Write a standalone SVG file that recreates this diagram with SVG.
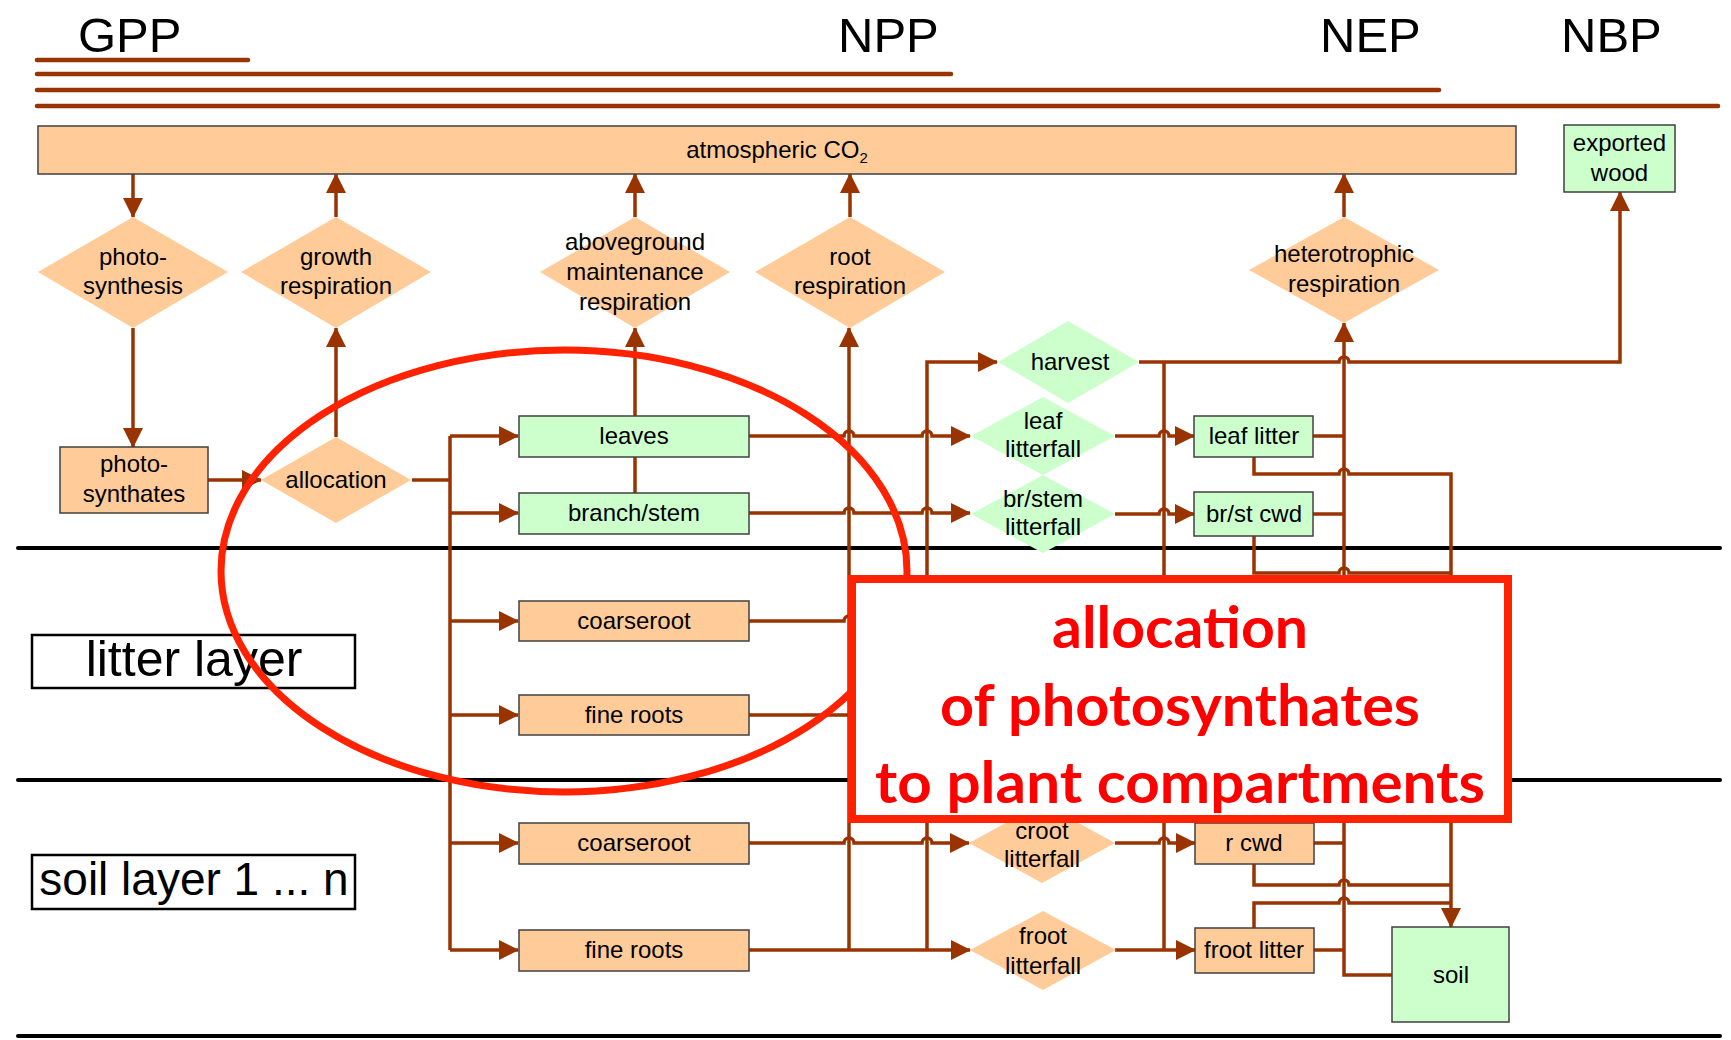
<svg xmlns="http://www.w3.org/2000/svg" width="1731" height="1040" viewBox="0 0 1731 1040">
<style>
.t{font-family:"Liberation Sans",Arial,sans-serif;font-size:24px;fill:#000;text-anchor:middle}
.big{font-family:"Liberation Sans",Arial,sans-serif;font-size:49px;fill:#000}
.lay{font-family:"Liberation Sans",Arial,sans-serif;fill:#000;text-anchor:middle}
.or{fill:#FFCC99;stroke:#404040;stroke-width:1.5}
.gr{fill:#CCFFCC;stroke:#404040;stroke-width:1.5}
.dor{fill:#FFCC99}
.dgr{fill:#CCFFCC}
.c{fill:none;stroke:#993300;stroke-width:3.5}
.ca{fill:none;stroke:#993300;stroke-width:3.5;marker-end:url(#ah)}
.bar{stroke:#993300;stroke-width:4.5;stroke-linecap:round}
.sep{stroke:#000;stroke-width:4;stroke-linecap:round}
.callt{font-family:Lato,"Open Sans",sans-serif;font-weight:bold;font-size:58px;fill:#FF0000;text-anchor:middle}
</style>
<defs>
<marker id="ah" viewBox="0 0 20 20" refX="19" refY="10" markerWidth="20" markerHeight="20" orient="auto" markerUnits="userSpaceOnUse">
<path d="M0,0 L20,10 L0,20 z" fill="#993300"/>
</marker>
</defs>
<rect width="1731" height="1040" fill="#FFFFFF"/>

<g id="header">
<text class="big" x="78" y="52">GPP</text>
<text class="big" x="838" y="52">NPP</text>
<text class="big" x="1320" y="52">NEP</text>
<text class="big" x="1561" y="52">NBP</text>
<line class="bar" x1="37" y1="60" x2="248" y2="60"/>
<line class="bar" x1="37" y1="74" x2="951" y2="74"/>
<line class="bar" x1="37" y1="90" x2="1439" y2="90"/>
<line class="bar" x1="37" y1="106" x2="1718" y2="106"/>
</g>

<g id="layers">
<line class="sep" x1="18" y1="548" x2="1720" y2="548"/>
<line class="sep" x1="18" y1="780" x2="1720" y2="780"/>
<line class="sep" x1="18" y1="1036" x2="1720" y2="1036"/>
<g id="litter-layer-label">
<rect x="32" y="635" width="323" height="53" fill="#FFFFFF" stroke="#000" stroke-width="2.5"/>
<text class="lay" x="194" y="676" font-size="50">litter layer</text>
</g>
<g id="soil-layer-label">
<rect x="32" y="855" width="323" height="54" fill="#FFFFFF" stroke="#000" stroke-width="2.5"/>
<text class="lay" x="194" y="895" font-size="46">soil layer 1 ... n</text>
</g>
</g>

<g id="connectors">
<path class="ca" d="M133,174 V217"/>
<path class="ca" d="M336,217 V174"/>
<path class="ca" d="M635,217 V174"/>
<path class="ca" d="M850,217 V174"/>
<path class="ca" d="M1344,217 V174"/>
<path class="ca" d="M133,328 V447"/>
<path class="ca" d="M208,480 H261"/>
<path class="ca" d="M336,437 V328"/>
<path class="c" d="M412,480 H450"/>
<path class="c" d="M450,436 V950"/>
<path class="ca" d="M450,436 H518"/>
<path class="ca" d="M450,513 H518"/>
<path class="ca" d="M450,621 H518"/>
<path class="ca" d="M450,715 H518"/>
<path class="ca" d="M450,843 H518"/>
<path class="ca" d="M450,950 H518"/>
<path class="ca" d="M635,493 V328"/>
<path class="ca" d="M749,436 H844 a5,5 0 0 1 10,0 H922 a5,5 0 0 1 10,0 H970"/>
<path class="ca" d="M749,513 H844 a5,5 0 0 1 10,0 H922 a5,5 0 0 1 10,0 H970"/>
<path class="c" d="M749,621 H844 a5,5 0 0 1 10,0 H922 a5,5 0 0 1 10,0 H960"/>
<path class="c" d="M749,715 H960"/>
<path class="ca" d="M749,843 H844 a5,5 0 0 1 10,0 H922 a5,5 0 0 1 10,0 H969"/>
<path class="ca" d="M749,950 H970"/>
<path class="ca" d="M849,950 V328"/>
<path class="ca" d="M927,950 V362 H997"/>
<path class="ca" d="M1139,362 H1339 a5,5 0 0 1 10,0 H1620 V192"/>
<path class="c" d="M1164,362 V950"/>
<path class="ca" d="M1115,436 H1159 a5,5 0 0 1 10,0 H1194"/>
<path class="ca" d="M1115,514 H1159 a5,5 0 0 1 10,0 H1194"/>
<path class="ca" d="M1115,843 H1159 a5,5 0 0 1 10,0 H1195"/>
<path class="ca" d="M1115,950 H1195"/>
<path class="c" d="M1313,436 H1344"/>
<path class="c" d="M1313,514 H1344"/>
<path class="c" d="M1314,843 H1344"/>
<path class="c" d="M1314,950 H1344"/>
<path class="ca" d="M1392,975 H1344 V323"/>
<path class="ca" d="M1254,457 V474 H1339 a5,5 0 0 1 10,0 H1451 V927"/>
<path class="c" d="M1254,536 V573 H1339 a5,5 0 0 1 10,0 H1451"/>
<path class="c" d="M1254,864 V885 H1339 a5,5 0 0 1 10,0 H1451"/>
<path class="c" d="M1254,928 V903 H1339 a5,5 0 0 1 10,0 H1451"/>
</g>

<g id="atmospheric-co2">
<rect class="or" x="38" y="126" width="1478" height="48"/>
<text class="t" x="777" y="158">atmospheric CO<tspan font-size="15" dy="5">2</tspan></text>
</g>
<g id="exported-wood">
<rect class="gr" x="1564" y="125" width="111" height="67"/>
<text class="t" x="1619.5" y="151">exported</text>
<text class="t" x="1619.5" y="181">wood</text>
</g>
<g id="photosynthesis">
<polygon class="dor" points="133,217 228,272 133,328 38,272"/>
<text class="t" x="133" y="265">photo-</text>
<text class="t" x="133" y="294">synthesis</text>
</g>
<g id="growth-respiration">
<polygon class="dor" points="336,217 431,272 336,328 241,272"/>
<text class="t" x="336" y="265">growth</text>
<text class="t" x="336" y="294">respiration</text>
</g>
<g id="aboveground-maintenance-respiration">
<polygon class="dor" points="635,217 730,272 635,328 540,272"/>
<text class="t" x="635" y="250">aboveground</text>
<text class="t" x="635" y="280">maintenance</text>
<text class="t" x="635" y="310">respiration</text>
</g>
<g id="root-respiration">
<polygon class="dor" points="850,217 945,272 850,328 755,272"/>
<text class="t" x="850" y="265">root</text>
<text class="t" x="850" y="294">respiration</text>
</g>
<g id="heterotrophic-respiration">
<polygon class="dor" points="1344,217 1439,270 1344,323 1249,270"/>
<text class="t" x="1344" y="262">heterotrophic</text>
<text class="t" x="1344" y="292">respiration</text>
</g>
<g id="photosynthates">
<rect class="or" x="60" y="447" width="148" height="66"/>
<text class="t" x="134" y="472">photo-</text>
<text class="t" x="134" y="502">synthates</text>
</g>
<g id="allocation">
<polygon class="dor" points="336,437 411,480 336,523 261,480"/>
<text class="t" x="336" y="488">allocation</text>
</g>
<g id="leaves">
<rect class="gr" x="519" y="416" width="230" height="41"/>
<text class="t" x="634" y="444">leaves</text>
</g>
<g id="branch-stem">
<rect class="gr" x="519" y="493" width="230" height="41"/>
<text class="t" x="634" y="521">branch/stem</text>
</g>
<g id="coarseroot-litter">
<rect class="or" x="519" y="601" width="230" height="40"/>
<text class="t" x="634" y="629">coarseroot</text>
</g>
<g id="fine-roots-litter">
<rect class="or" x="519" y="695" width="230" height="40"/>
<text class="t" x="634" y="723">fine roots</text>
</g>
<g id="coarseroot-soil">
<rect class="or" x="519" y="823" width="230" height="41"/>
<text class="t" x="634" y="851">coarseroot</text>
</g>
<g id="fine-roots-soil">
<rect class="or" x="519" y="930" width="230" height="41"/>
<text class="t" x="634" y="958">fine roots</text>
</g>
<g id="harvest">
<polygon class="dgr" points="1068,321 1139,362 1068,403 998,362"/>
<text class="t" x="1070" y="370">harvest</text>
</g>
<g id="leaf-litterfall">
<polygon class="dgr" points="1043,397 1115,436 1043,475 971,436"/>
<text class="t" x="1043" y="429">leaf</text>
<text class="t" x="1043" y="457">litterfall</text>
</g>
<g id="br-stem-litterfall">
<polygon class="dgr" points="1043,475 1115,514 1043,553 971,514"/>
<text class="t" x="1043" y="507">br/stem</text>
<text class="t" x="1043" y="535">litterfall</text>
</g>
<g id="croot-litterfall">
<polygon class="dor" points="1042,803 1115,843 1042,883 969,843"/>
<text class="t" x="1042" y="839">croot</text>
<text class="t" x="1042" y="867">litterfall</text>
</g>
<g id="froot-litterfall">
<polygon class="dor" points="1043,911 1116,950 1043,990 970,950"/>
<text class="t" x="1043" y="944">froot</text>
<text class="t" x="1043" y="974">litterfall</text>
</g>
<g id="leaf-litter">
<rect class="gr" x="1194" y="416" width="119" height="41"/>
<text class="t" x="1254" y="444">leaf litter</text>
</g>
<g id="br-st-cwd">
<rect class="gr" x="1194" y="492" width="119" height="44"/>
<text class="t" x="1254" y="522">br/st cwd</text>
</g>
<g id="r-cwd">
<rect class="or" x="1195" y="823" width="119" height="41"/>
<text class="t" x="1254" y="851">r cwd</text>
</g>
<g id="froot-litter">
<rect class="or" x="1195" y="928" width="119" height="45"/>
<text class="t" x="1254" y="958">froot litter</text>
</g>
<g id="soil">
<rect class="gr" x="1392" y="927" width="117" height="95"/>
<text class="t" x="1451" y="983">soil</text>
</g>

<g id="highlight">
<ellipse cx="564" cy="571" rx="343" ry="221" fill="none" stroke="#FF2200" stroke-width="7"/>
</g>
<g id="callout">
<rect x="852" y="579" width="656" height="240" fill="#FFFFFF" stroke="#FF2200" stroke-width="8"/>
<text class="callt" x="1180" y="648" textLength="256" lengthAdjust="spacingAndGlyphs">allocation</text>
<text class="callt" x="1180" y="726" textLength="480" lengthAdjust="spacingAndGlyphs">of photosynthates</text>
<text class="callt" x="1180" y="803" textLength="610" lengthAdjust="spacingAndGlyphs">to plant compartments</text>
</g>
</svg>
